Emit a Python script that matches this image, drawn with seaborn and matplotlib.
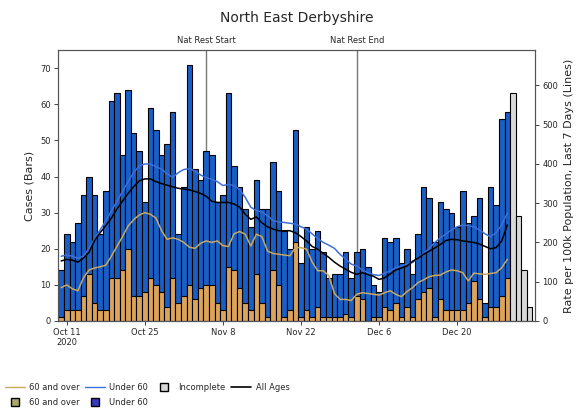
import matplotlib
matplotlib.use('Agg')
import matplotlib.pyplot as plt
import matplotlib.transforms as mtransforms
from matplotlib.lines import Line2D
import pandas as pd
import seaborn as sns

# one bar per day, 2020-10-10 .. 2021-01-02
dates = pd.date_range('2020-10-10', '2021-01-02', freq='D')

# daily cases, complete days (total = under 60 + 60 and over)
cases_total = [14, 24, 22, 27, 35, 40, 35, 24, 36, 61,
               63, 46, 64, 52, 47, 33, 59, 53, 46, 49,
               58, 24, 37, 71, 42, 39, 47, 46, 33, 35,
               63, 43, 37, 31, 26, 39, 31, 31, 44, 36,
               25, 20, 53, 16, 26, 20, 25, 19, 12, 13,
               13, 19, 12, 19, 20, 15, 10, 8, 23, 22,
               23, 16, 20, 13, 24, 37, 34, 22, 33, 31,
               30, 26, 36, 27, 29, 34, 5, 37, 32, 56,
               58]
cases_60plus = [1, 3, 3, 3, 7, 13, 5, 3, 3, 12,
                12, 14, 20, 7, 7, 8, 12, 10, 8, 4,
                12, 5, 7, 10, 6, 9, 10, 10, 5, 3,
                15, 14, 9, 5, 3, 13, 5, 1, 14, 10,
                1, 3, 22, 1, 3, 1, 4, 1, 1, 1,
                1, 2, 1, 7, 6, 0, 1, 1, 4, 3,
                5, 1, 4, 1, 6, 8, 9, 1, 6, 3,
                3, 3, 3, 5, 11, 6, 1, 4, 4, 7,
                12]
# last four days, not yet complete
cases_incomplete = [63, 29, 14, 4]

# rate per 100k, last 7 days
rate_all_ages = [153, 157, 155, 150, 160, 175, 205, 225, 243, 262,
                 285, 305, 325, 342, 357, 362, 362, 355, 350, 346,
                 342, 338, 336, 334, 330, 325, 318, 305, 302, 302,
                 302, 298, 290, 272, 259, 265, 250, 240, 234, 230,
                 230, 230, 225, 215, 204, 190, 183, 172, 162, 150,
                 140, 132, 124, 119, 123, 118, 114, 106, 110, 120,
                 130, 135, 140, 152, 160, 170, 178, 186, 195, 205,
                 208, 207, 204, 202, 200, 196, 190, 184, 187, 204,
                 245]
rate_under60 = [165, 168, 165, 160, 165, 185, 210, 232, 255, 280,
                305, 330, 355, 378, 395, 400, 400, 393, 387, 375,
                366, 378, 386, 388, 382, 372, 365, 361, 355, 345,
                348, 345, 335, 315, 290, 281, 278, 268, 256, 252,
                251, 249, 247, 240, 234, 222, 210, 200, 193, 185,
                170, 158, 145, 140, 130, 123, 118, 116, 122, 128,
                135, 140, 145, 149, 160, 172, 185, 200, 212, 222,
                232, 240, 244, 243, 240, 232, 222, 215, 225, 245,
                275]
rate_60plus = [85, 92, 82, 77, 110, 130, 135, 138, 142, 165,
               190, 215, 242, 258, 270, 276, 272, 262, 230, 208,
               212, 208, 200, 188, 185, 198, 204, 200, 204, 192,
               190, 222, 228, 221, 191, 221, 215, 178, 172, 170,
               168, 166, 187, 187, 183, 150, 128, 128, 115, 70,
               55, 55, 52, 68, 72, 70, 68, 66, 72, 77,
               68, 62, 75, 85, 98, 105, 113, 116, 117, 125,
               130, 128, 123, 102, 122, 120, 119, 121, 123, 136,
               157]

tick_dates = ['2020-10-11', '2020-10-25', '2020-11-08', '2020-11-22', '2020-12-06', '2020-12-20']
tick_labels = ['Oct 11\n2020', 'Oct 25', 'Nov 8', 'Nov 22', 'Dec 6', 'Dec 20']
events = [('Nat Rest Start', '2020-11-05'), ('Nat Rest End', '2020-12-02')]

BAR_BLUE = '#1a5fc6'
BAR_TAN = '#dca35a'
BAR_GREY = '#d9d9d9'
LINE_BLUE = '#3f6fd8'
LINE_TAN = '#c8a862'

if __name__ == '__main__':
    n_done = len(cases_total)
    all_pos = list(range(len(dates)))

    barsDF = pd.DataFrame({'pos': all_pos[:n_done], 'total': cases_total, 'over60': cases_60plus})
    incDF = pd.DataFrame({'pos': all_pos[n_done:], 'cases': cases_incomplete})
    ratesDF = pd.DataFrame({'pos': all_pos[:n_done], 'all': rate_all_ages,
                            'u60': rate_under60, 'o60': rate_60plus})

    sns.set_theme(style='white')
    fig, ax = plt.subplots(figsize=(5.78, 4.11), dpi=100)
    fig.subplots_adjust(left=0.100, right=0.926, top=0.878, bottom=0.219)

    bar_kw = dict(order=all_pos, width=1.0, saturation=1, errorbar=None,
                  edgecolor='black', linewidth=0.8, ax=ax)
    sns.barplot(data=barsDF, x='pos', y='total', color=BAR_BLUE, **bar_kw)
    sns.barplot(data=barsDF, x='pos', y='over60', color=BAR_TAN, **bar_kw)
    sns.barplot(data=incDF, x='pos', y='cases', color=BAR_GREY, **bar_kw)

    # national restriction markers
    trans = mtransforms.blended_transform_factory(ax.transData, ax.transAxes)
    for label, day in events:
        xpos = dates.get_loc(pd.Timestamp(day))
        ax.axvline(xpos, color='#777777', lw=1, zorder=0)
        ax.text(xpos, 1.02, label, transform=trans, ha='center', va='bottom', fontsize=6)

    ax2 = ax.twinx()
    sns.lineplot(data=ratesDF, x='pos', y='o60', color=LINE_TAN, lw=1.1, ax=ax2)
    sns.lineplot(data=ratesDF, x='pos', y='u60', color=LINE_BLUE, lw=1.1, ax=ax2)
    sns.lineplot(data=ratesDF, x='pos', y='all', color='black', lw=1.1, ax=ax2)

    ax.set_ylim(0, 75)
    ax.set_yticks(range(0, 71, 10))
    ax2.set_ylim(0, 690)
    ax2.set_yticks(range(0, 601, 100))
    tick_pos = [dates.get_loc(pd.Timestamp(d)) for d in tick_dates]
    ax.set_xticks(tick_pos)
    ax.set_xticklabels(tick_labels)
    ax.set_xlim(-0.6, 85.0)

    ax.set_xlabel('')
    ax.set_ylabel('Cases (Bars)', fontsize=8)
    ax2.set_xlabel('')
    ax2.set_ylabel('Rate per 100k Population, Last 7 Days (Lines)', fontsize=8)
    ax.set_title('North East Derbyshire', fontsize=10, pad=20)

    for a in (ax, ax2):
        a.tick_params(labelsize=6, length=3, width=0.6, direction='out', pad=2)
        for s in a.spines.values():
            s.set_color('#555555')
            s.set_linewidth(0.8)
    ax.tick_params(axis='x', bottom=True)
    ax.tick_params(axis='y', left=True)
    ax2.tick_params(axis='y', right=True)

    handles = [
        Line2D([], [], color=LINE_TAN, lw=1),
        Line2D([], [], marker='s', ls='none', markersize=6, markerfacecolor='#a9a86c', markeredgecolor='black'),
        Line2D([], [], color=LINE_BLUE, lw=1),
        Line2D([], [], marker='s', ls='none', markersize=6, markerfacecolor='#3a3ac0', markeredgecolor='black'),
        Line2D([], [], marker='s', ls='none', markersize=6, markerfacecolor=BAR_GREY, markeredgecolor='black'),
        Line2D([], [], color='black', lw=1.2),
    ]
    labels = ['60 and over', '60 and over', 'Under 60', 'Under 60', 'Incomplete', 'All Ages']
    fig.legend(handles, labels, loc='lower left', bbox_to_anchor=(-0.005, -0.008), ncol=4,
               frameon=False, fontsize=6, handlelength=2.4, columnspacing=0.7,
               handletextpad=0.5, labelspacing=0.7)

    plt.savefig('out.png', dpi=100)
